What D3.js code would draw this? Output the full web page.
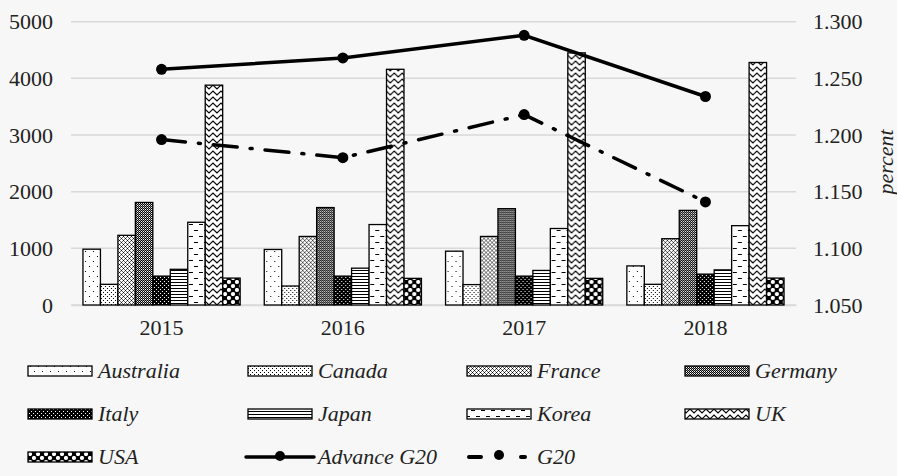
<!DOCTYPE html>
<html><head><meta charset="utf-8">
<script src="https://cdn.jsdelivr.net/npm/d3@7"></script>
</head>
<body style="margin:0;padding:0;background:#f7f7f7;">
<svg id="chart" width="897" height="476" style="display:block"></svg>
<script>
const years = ["2015","2016","2017","2018"];
const countries = ["Australia","Canada","France","Germany","Italy","Japan","Korea","UK","USA"];
const Australia = [985, 980, 950, 690];
const Canada    = [365, 335, 360, 365];
const France    = [1230, 1210, 1210, 1170];
const Germany   = [1810, 1720, 1700, 1670];
const Italy     = [510, 510, 510, 545];
const Japan     = [630, 650, 610, 620];
const Korea     = [1460, 1420, 1350, 1400];
const UK        = [3880, 4160, 4450, 4280];
const USA       = [475, 470, 470, 475];
const advanceG20 = [1.258, 1.268, 1.288, 1.234];
const g20        = [1.196, 1.180, 1.218, 1.141];
const leftTicks = [0,1000,2000,3000,4000,5000];
const rightTicks = [1.05,1.10,1.15,1.20,1.25,1.30];

const seriesVals = {Australia,Canada,France,Germany,Italy,Japan,Korea,UK,USA};
const FONT = '"Liberation Serif"';
const TXT = "#222";

const svg = d3.select("#chart");
const defs = svg.append("defs");
function pat(id,w,h,bg,draw){
  const p = defs.append("pattern").attr("id",id).attr("patternUnits","userSpaceOnUse")
    .attr("width",w).attr("height",h);
  p.append("rect").attr("width",w).attr("height",h).attr("fill",bg);
  const g = p.append("g").attr("shape-rendering","crispEdges");
  draw(g);
}
const px=(g,x,y,c="#000",w=1,h=1)=>g.append("rect").attr("x",x).attr("y",y).attr("width",w).attr("height",h).attr("fill",c);
pat("p-Australia",8,10,"#fff",g=>{px(g,2,1);px(g,6,6);});
pat("p-Canada",4,4,"#fff",g=>{px(g,0,0);px(g,2,2);});
pat("p-France",4,4,"#fff",g=>{px(g,0,0);px(g,1,1,"#666");px(g,3,1,"#666");px(g,2,2);px(g,1,3,"#666");px(g,3,3,"#666");});
pat("p-Germany",2,2,"#fff",g=>{px(g,0,0);px(g,1,1);px(g,1,0,"#999");});
pat("p-Italy",4,4,"#000",g=>{px(g,1,1,"#fff");px(g,3,3,"#fff");});
pat("p-Japan",4,3,"#fff",g=>{px(g,0,0,"#000",4,1);});
pat("p-Korea",10,12,"#fff",g=>{px(g,1,2,"#000",4,1);px(g,6,8,"#000",4,1);});
pat("p-UK",8,6,"#fff",g=>{
  g.attr("shape-rendering",null);
  g.append("path").attr("d","M-2,5 L2,1 L6,5 L10,1 M-2,11 L2,7 L6,11 L10,7 M-2,-1 L2,-5 L6,-1 L10,-5").attr("stroke","#000").attr("stroke-width",1.1).attr("fill","none");
});
pat("p-USA",8,8,"#000",g=>{
  g.attr("shape-rendering",null);
  [[2,2],[6,6]].forEach(([x,y])=>g.append("circle").attr("cx",x).attr("cy",y).attr("r",2.1).attr("fill","#fff"));
});

const plotL = 71, plotR = 796, plotT = 21.7, plotB = 305;
const x0 = d3.scaleBand().domain(years).range([plotL,plotR]).paddingInner(0.133).paddingOuter(0.066);
const x1 = d3.scaleBand().domain(countries).range([0,x0.bandwidth()]);
const yL = d3.scaleLinear().domain([0,5000]).range([plotB,plotT]);
const yR = d3.scaleLinear().domain([1.05,1.30]).range([plotB,plotT]);

svg.append("g").selectAll("line").data(leftTicks).join("line")
  .attr("x1",plotL).attr("x2",plotR).attr("y1",d=>yL(d)).attr("y2",d=>yL(d))
  .attr("stroke","#d9d9d9").attr("stroke-width",1.5);

function styleAxis(g){
  g.selectAll("text").style("font-family",FONT).style("font-size","22px").attr("fill",TXT);
}
const axL = d3.axisLeft(yL).tickValues(leftTicks).tickFormat(d3.format("d")).tickSize(0).tickPadding(18);
const gL = svg.append("g").attr("transform",`translate(${plotL},0)`).call(axL);
gL.select(".domain").remove();
styleAxis(gL);

const axR = d3.axisRight(yR).tickValues(rightTicks).tickFormat(d3.format(".3f")).tickSize(0).tickPadding(17);
const gR = svg.append("g").attr("transform",`translate(${plotR},0)`).call(axR);
gR.select(".domain").remove();
styleAxis(gR);

const axB = d3.axisBottom(x0).tickSize(0).tickPadding(14);
const gB = svg.append("g").attr("transform",`translate(0,${plotB})`).call(axB);
gB.select(".domain").attr("stroke","#d9d9d9").attr("stroke-width",1.5);
styleAxis(gB);

svg.append("text").attr("transform",`translate(893,162) rotate(-90)`)
  .attr("text-anchor","middle").style("font-family",FONT).style("font-size","22px").style("font-style","italic").attr("fill",TXT).text("percent");

const groups = svg.append("g").selectAll("g").data(years).join("g")
  .attr("transform",d=>`translate(${x0(d)},0)`);
groups.selectAll("rect").data((d,i)=>countries.map(c=>({c,v:seriesVals[c][i]}))).join("rect")
  .attr("x",d=>x1(d.c)).attr("width",x1.bandwidth())
  .attr("y",d=>yL(d.v)).attr("height",d=>yL(0)-yL(d.v))
  .attr("fill",d=>`url(#p-${d.c})`).attr("stroke","#000").attr("stroke-width",1.3);

const cx = d=>x0(d)+x0.bandwidth()/2;
const line = d3.line().x(d=>cx(d.y)).y(d=>yR(d.v));
function drawLine(vals,dash){
  const data = years.map((y,i)=>({y,v:vals[i]}));
  svg.append("path").datum(data).attr("d",line).attr("fill","none").attr("stroke","#000")
    .attr("stroke-width",3.5).attr("stroke-dasharray",dash).attr("stroke-linecap","round");
  svg.append("g").selectAll("circle").data(data).join("circle")
    .attr("cx",d=>cx(d.y)).attr("cy",d=>yR(d.v)).attr("r",5.5).attr("fill","#000");
}
drawLine(advanceG20,null);
drawLine(g20,"24,13,2,13");

const legendItems = countries.map(c=>({name:c,type:"bar"})).concat([{name:"Advance G20",type:"solid"},{name:"G20",type:"dash"}]);
const colX = [28,248,467,685];
const rowY = [371,414,457];
const lg = svg.append("g");
legendItems.forEach((it,i)=>{
  const cxp = colX[i%4], cy = rowY[Math.floor(i/4)];
  const g = lg.append("g");
  if(it.type==="bar"){
    g.append("rect").attr("x",cxp).attr("y",cy-5).attr("width",64).attr("height",10)
      .attr("fill",`url(#p-${it.name})`).attr("stroke","#000").attr("stroke-width",1.3);
  } else if(it.type==="solid"){
    g.append("line").attr("x1",cxp-2).attr("x2",cxp+66).attr("y1",cy).attr("y2",cy).attr("stroke","#000")
      .attr("stroke-width",3.5).attr("stroke-linecap","round");
    g.append("circle").attr("cx",cxp+32).attr("cy",cy-1).attr("r",5).attr("fill","#000");
  } else {
    g.append("line").attr("x1",cxp+2).attr("x2",cxp+14).attr("y1",cy).attr("y2",cy).attr("stroke","#000").attr("stroke-width",4).attr("stroke-linecap","round");
    g.append("line").attr("x1",cxp+54).attr("x2",cxp+58).attr("y1",cy).attr("y2",cy).attr("stroke","#000").attr("stroke-width",4).attr("stroke-linecap","round");
    g.append("circle").attr("cx",cxp+32).attr("cy",cy-2).attr("r",5).attr("fill","#000");
  }
  g.append("text").attr("x",cxp+70).attr("y",cy+7).style("font-family",FONT).style("font-size","22px").style("font-style","italic")
    .attr("fill",TXT).text(it.name);
});
</script></body></html>
